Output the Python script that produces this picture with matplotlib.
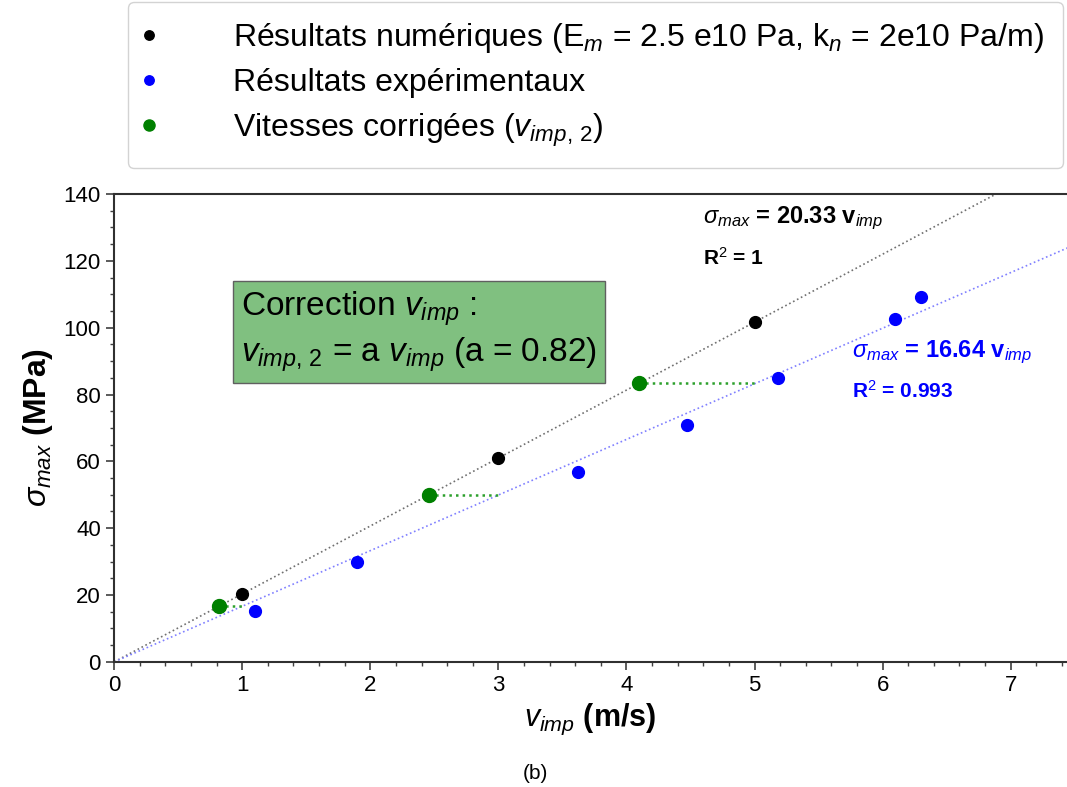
import numpy as np
import matplotlib
matplotlib.use('Agg')
import matplotlib.pyplot as plt
from matplotlib.ticker import MultipleLocator

plt.rcParams['font.family'] = 'Liberation Sans'
plt.rcParams['mathtext.fontset'] = 'custom'
plt.rcParams['mathtext.rm'] = 'Liberation Sans'
plt.rcParams['mathtext.it'] = 'Liberation Sans:italic'
plt.rcParams['mathtext.bf'] = 'Liberation Sans:bold'

# données numériques
v_num = [1, 3, 5]
s_num = [20.33, 61.0, 101.65]
# données expérimentales
v_exp = [1.1, 1.9, 3.62, 4.47, 5.18, 6.1, 6.3]
s_exp = [15.3, 29.9, 56.8, 70.9, 85.0, 102.6, 109.2]
# vitesses corrigées
a = 0.82
v_cor = [0.82, 2.46, 4.1]
s_cor = [16.67, 50.0, 83.3]

pente_num = 20.33
pente_exp = 16.64

fig = plt.figure(figsize=(10.67, 7.87), dpi=100)
ax = fig.add_axes([0.107, 0.159, 0.893, 0.5945])

xx = np.array([0, 7.5])
ax.plot(xx, pente_num * xx, ls=':', color='#707070', lw=1.2, zorder=1)
ax.plot(xx, pente_exp * xx, ls=':', color='#8080ff', lw=1.2, zorder=1)

for vc, sc, vn in zip(v_cor, s_cor, v_num):
    ax.plot([vc, vn], [sc, sc], ls=':', color='#2ca02c', lw=1.8, zorder=1)

ax.plot(v_num, s_num, 'o', color='black', ms=8.5, zorder=3,
        label=r'Résultats numériques (E$_{m}$ = 2.5 e10 Pa, k$_{n}$ = 2e10 Pa/m)')
ax.plot(v_exp, s_exp, 'o', color='blue', ms=8.5, zorder=3,
        label='Résultats expérimentaux')
ax.plot(v_cor, s_cor, 'o', color='green', ms=10, zorder=3,
        label=r'Vitesses corrigées ($v_{imp,\,2}$)')

ax.set_xlim(0, 7.44)
ax.set_ylim(0, 140)
ax.xaxis.set_major_locator(MultipleLocator(1))
ax.xaxis.set_minor_locator(MultipleLocator(0.2))
ax.yaxis.set_major_locator(MultipleLocator(20))
ax.yaxis.set_minor_locator(MultipleLocator(5))
ax.tick_params(which='major', labelsize=16, length=6, width=1.2, color='#404040')
ax.tick_params(which='minor', length=3, width=1, color='#404040')
ax.spines['right'].set_visible(False)
for s in ['left', 'bottom', 'top']:
    ax.spines[s].set_linewidth(1.5)
    ax.spines[s].set_color('#303030')

ax.set_xlabel(r'$v_{imp}$ (m/s)', fontsize=22, fontweight='bold', labelpad=4)
ax.set_ylabel(r'$\sigma_{max}$ (MPa)', fontsize=23, fontweight='bold', labelpad=6)

ax.text(4.6, 132.8, r'$\sigma_{max}$ = 20.33 v$_{imp}$', fontsize=17, fontweight='bold',
        color='black', va='center')
ax.text(4.6, 120.8, r'R$^2$ = 1', fontsize=15, fontweight='bold', color='black', va='center')
ax.text(5.76, 92.7, r'$\sigma_{max}$ = 16.64 v$_{imp}$', fontsize=17, fontweight='bold',
        color='blue', va='center')
ax.text(5.76, 81, r'R$^2$ = 0.993', fontsize=15, fontweight='bold', color='blue', va='center')

ax.text(0.99, 98.7, 'Correction $v_{imp}$ :\n$v_{imp,\,2}$ = a $v_{imp}$ (a = 0.82)',
        fontsize=24, va='center', ha='left', linespacing=1.3,
        bbox=dict(boxstyle='square,pad=0.25', facecolor='#80c080', edgecolor='#606060'))

fig.legend(loc='upper left', bbox_to_anchor=(0.12, 0.998), borderaxespad=0, fontsize=23,
           frameon=True, edgecolor='#c8c8c8', handletextpad=2.6, markerscale=0.8,
           borderpad=0.6, labelspacing=0.42, handlelength=0.1)

fig.text(0.502, 0.005, '(b)', fontsize=15, ha='center', va='bottom')

fig.savefig('out.png', dpi=100)
